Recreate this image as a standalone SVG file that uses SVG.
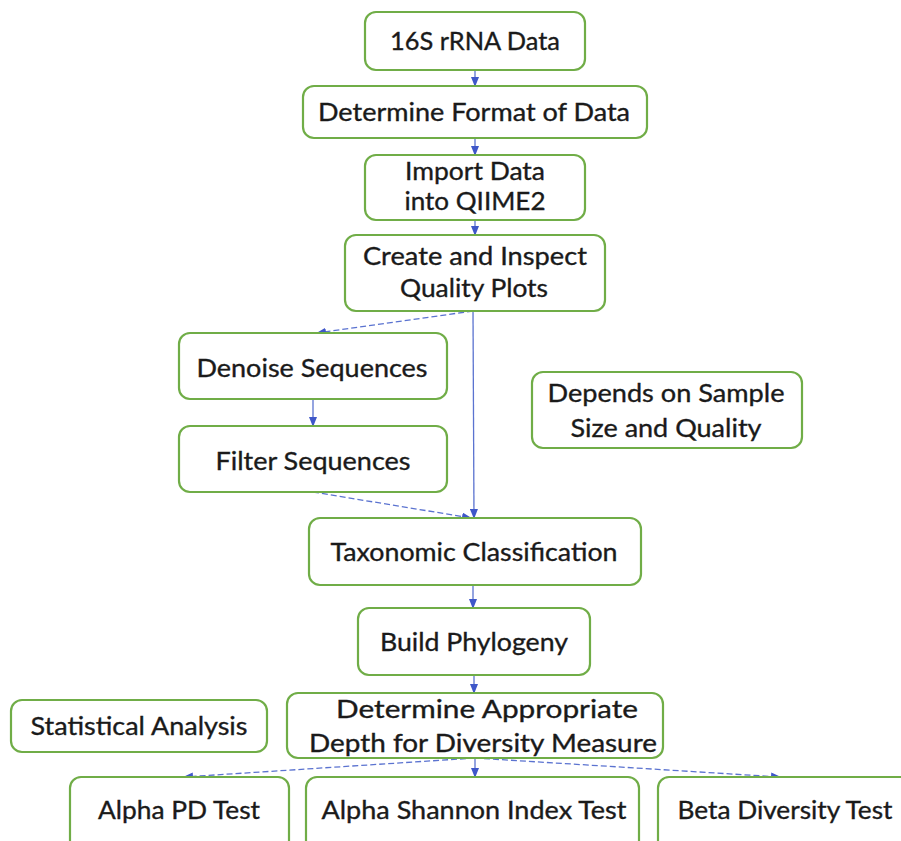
<svg xmlns="http://www.w3.org/2000/svg" width="901" height="841" viewBox="0 0 901 841">
<style>
.box{fill:#fff;stroke:#70ad47;stroke-width:2.2}
.t{font-family:Lato,"Open Sans",sans-serif;font-size:25px;fill:#1a1a1a;stroke:#1a1a1a;stroke-width:0.35;text-anchor:middle}
.c{fill:none;stroke:#5b73d0;stroke-width:1.3}
.d{stroke-dasharray:6 3}
</style>
<defs>
<marker id="ah" markerWidth="10" markerHeight="8" refX="9" refY="4" orient="auto" markerUnits="userSpaceOnUse">
<path d="M0,0 L10,4 L0,8 Z" fill="#3f57c9"/>
</marker>
</defs>
<rect width="901" height="841" fill="#fff"/>
<g id="connectors">
<line class="c" x1="475" y1="70" x2="475" y2="86" marker-end="url(#ah)"/>
<line class="c" x1="475" y1="138" x2="475" y2="155" marker-end="url(#ah)"/>
<line class="c" x1="475" y1="220" x2="475" y2="235" marker-end="url(#ah)"/>
<line class="c d" x1="473" y1="311" x2="317" y2="333" marker-end="url(#ah)"/>
<line class="c" x1="473" y1="311" x2="474" y2="518" marker-end="url(#ah)"/>
<line class="c" x1="313" y1="399" x2="313" y2="426" marker-end="url(#ah)"/>
<line class="c d" x1="313" y1="492" x2="471" y2="518" marker-end="url(#ah)"/>
<line class="c" x1="473" y1="585" x2="473" y2="608" marker-end="url(#ah)"/>
<line class="c" x1="474" y1="675" x2="474" y2="693" marker-end="url(#ah)"/>
<line class="c d" x1="475" y1="758" x2="184" y2="777" marker-end="url(#ah)"/>
<line class="c" x1="475" y1="758" x2="475" y2="777" marker-end="url(#ah)"/>
<line class="c d" x1="475" y1="758" x2="780" y2="777" marker-end="url(#ah)"/>
</g>
<g id="n1"><rect class="box" x="365" y="12" width="220" height="58" rx="11"/><text class="t" x="475" y="50" textLength="170" lengthAdjust="spacingAndGlyphs">16S rRNA Data</text></g>
<g id="n2"><rect class="box" x="303" y="86" width="344" height="52" rx="11"/><text class="t" x="474" y="121" textLength="312" lengthAdjust="spacingAndGlyphs">Determine Format of Data</text></g>
<g id="n3"><rect class="box" x="365" y="155" width="220" height="65" rx="11"/><text class="t" x="475" y="180" textLength="140" lengthAdjust="spacingAndGlyphs">Import Data</text><text class="t" x="475" y="210" textLength="141" lengthAdjust="spacingAndGlyphs">into QIIME2</text></g>
<g id="n4"><rect class="box" x="345" y="235" width="260" height="76" rx="11"/><text class="t" x="475" y="265" textLength="224" lengthAdjust="spacingAndGlyphs">Create and Inspect</text><text class="t" x="474" y="297" textLength="148" lengthAdjust="spacingAndGlyphs">Quality Plots</text></g>
<g id="n5"><rect class="box" x="179" y="333" width="268" height="66" rx="11"/><text class="t" x="312" y="377" textLength="231" lengthAdjust="spacingAndGlyphs">Denoise Sequences</text></g>
<g id="n6"><rect class="box" x="179" y="426" width="268" height="66" rx="11"/><text class="t" x="313" y="470" textLength="195" lengthAdjust="spacingAndGlyphs">Filter Sequences</text></g>
<g id="n7"><rect class="box" x="532" y="372" width="270" height="76" rx="11"/><text class="t" x="666" y="402" textLength="237" lengthAdjust="spacingAndGlyphs">Depends on Sample</text><text class="t" x="666" y="437" textLength="191" lengthAdjust="spacingAndGlyphs">Size and Quality</text></g>
<g id="n8"><rect class="box" x="309" y="518" width="332" height="67" rx="11"/><text class="t" x="474" y="561" textLength="287" lengthAdjust="spacingAndGlyphs">Taxonomic Classification</text></g>
<g id="n9"><rect class="box" x="358" y="608" width="232" height="67" rx="11"/><text class="t" x="474" y="651" textLength="188" lengthAdjust="spacingAndGlyphs">Build Phylogeny</text></g>
<g id="n10"><rect class="box" x="11" y="700" width="256" height="52" rx="11"/><text class="t" x="139" y="735" textLength="217" lengthAdjust="spacingAndGlyphs">Statistical Analysis</text></g>
<g id="n11"><rect class="box" x="287" y="693" width="376" height="65" rx="11"/><text class="t" x="487" y="718" textLength="302" lengthAdjust="spacingAndGlyphs">Determine Appropriate</text><text class="t" x="483" y="752" textLength="348" lengthAdjust="spacingAndGlyphs">Depth for Diversity Measure</text></g>
<g id="n12"><rect class="box" x="70" y="777" width="219" height="80" rx="11"/><text class="t" x="179" y="819" textLength="162" lengthAdjust="spacingAndGlyphs">Alpha PD Test</text></g>
<g id="n13"><rect class="box" x="306" y="777" width="333" height="80" rx="11"/><text class="t" x="474" y="819" textLength="305" lengthAdjust="spacingAndGlyphs">Alpha Shannon Index Test</text></g>
<g id="n14"><rect class="box" x="658" y="777" width="260" height="80" rx="11"/><text class="t" x="785" y="819" textLength="215" lengthAdjust="spacingAndGlyphs">Beta Diversity Test</text></g>
</svg>
